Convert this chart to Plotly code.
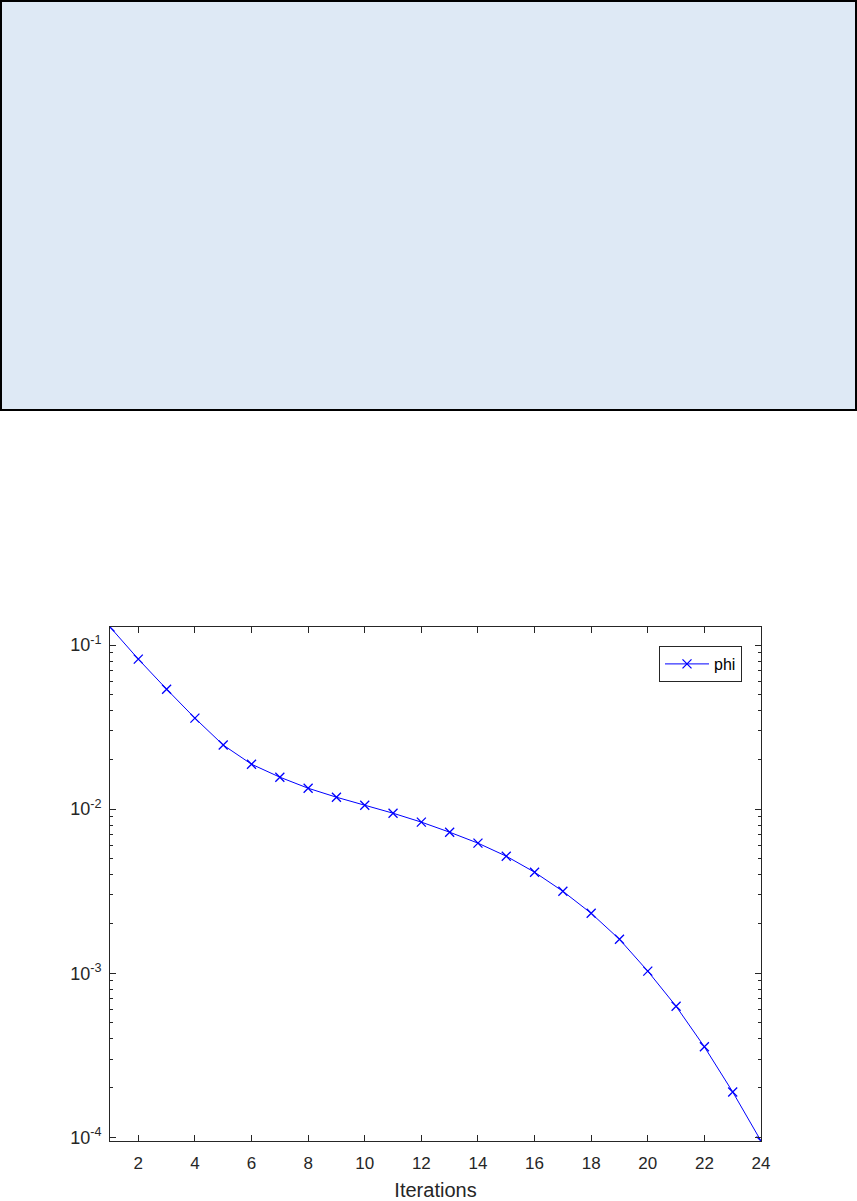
import numpy as np
import plotly.graph_objects as go

# ---- data ----
iterations = list(range(1, 25))
phi = [0.129, 0.0822, 0.0539, 0.0359, 0.0246, 0.0188, 0.01567, 0.01342,
       0.01183, 0.01057, 0.00945, 0.00834, 0.00724, 0.00621, 0.00517,
       0.00413, 0.00316, 0.00232, 0.00161, 0.00103, 0.000629, 0.000356,
       0.000189, 0.0000949]
x_ticks = list(range(2, 25, 2))
y_tick_exps = [-4, -3, -2, -1]
y_tick_labels = ["10<sup>-4</sup>", "10<sup>-3</sup>", "10<sup>-2</sup>", "10<sup>-1</sup>"]
series_name = "phi"
x_title = "Iterations"

# ---- layout geometry (pixels) ----
W, H = 857, 1201
ML, MR, MT, MB = 110, 96, 627, 60
pw = W - ML - MR
ph = H - MT - MB

def px_to_paper_x(px):
    return (px - ML) / pw

def px_to_paper_y(py):
    return (H - MB - py) / ph

AX = "#262626"
FONT = "Liberation Sans, Arial, sans-serif"

fig = go.Figure()
fig.add_trace(go.Scatter(
    x=iterations, y=phi, name=series_name, mode="lines+markers",
    line=dict(color="#0000FF", width=1),
    marker=dict(symbol="x-thin", size=9, line=dict(color="#0000FF", width=1.3), color="#0000FF"),
))

# decorative panel at top of page
fig.add_shape(type="rect", xref="paper", yref="paper",
              x0=px_to_paper_x(1), x1=px_to_paper_x(W - 1),
              y0=px_to_paper_y(410), y1=px_to_paper_y(1),
              fillcolor="#DEE9F5", line=dict(color="#000000", width=2), layer="below")

ymin, ymax = np.log10(min(phi)), np.log10(max(phi))

fig.update_layout(
    width=W, height=H,
    margin=dict(l=ML, r=MR, t=MT, b=MB, autoexpand=False),
    paper_bgcolor="white", plot_bgcolor="white",
    font=dict(family=FONT, size=16, color=AX),
    showlegend=True,
    legend=dict(x=px_to_paper_x(742), y=px_to_paper_y(646), xanchor="right", yanchor="top",
                bgcolor="white", bordercolor=AX, borderwidth=1,
                font=dict(size=16, color="#000000"), itemwidth=44,
                tracegroupgap=0),
    xaxis=dict(range=[1, 24], tickvals=x_ticks, ticks="inside", ticklen=6, tickwidth=1,
               tickcolor=AX, showline=True, linecolor=AX, linewidth=1, mirror="allticks",
               showgrid=False, zeroline=False, ticklabelstandoff=7, automargin=False,
               tickfont=dict(size=17, color=AX),
               title=dict(text=x_title, font=dict(size=20, color=AX), standoff=11)),
    yaxis=dict(type="log", range=[ymin, ymax],
               tickvals=[10.0 ** e for e in y_tick_exps], ticktext=y_tick_labels,
               ticks="inside", ticklen=6, tickwidth=1, tickcolor=AX,
               showline=True, linecolor=AX, linewidth=1, mirror="allticks",
               showgrid=False, zeroline=False, ticklabelstandoff=4, automargin=False,
               tickfont=dict(size=18, color=AX),
               minor=dict(ticks="inside", ticklen=3, tickcolor=AX, showgrid=False,
                          tickvals=[m * 10.0 ** e for e in range(-5, 0) for m in range(2, 10)])),
)

fig.write_html("out.html", config={"displayModeBar": False},
               post_script="document.body.style.margin='0';")
